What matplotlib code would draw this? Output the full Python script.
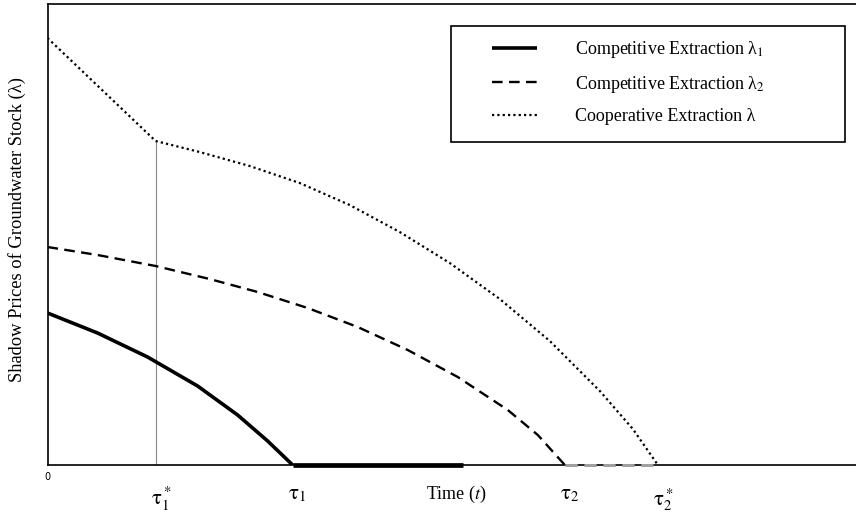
import matplotlib
matplotlib.use('Agg')
import matplotlib.pyplot as plt
import matplotlib.transforms as mtransforms
from matplotlib.patches import Rectangle

plt.rcParams['font.family'] = ['Liberation Serif', 'DejaVu Serif']
plt.rcParams['mathtext.fontset'] = 'stix'

# time axis points and shadow prices
t_comp1 = [0, 0.5, 1.0, 1.5, 1.9, 2.2, 2.45]
lam_comp1 = [1.52, 1.32, 1.08, 0.79, 0.50, 0.24, 0]
t_comp1_flat = [2.45, 4.15]

t_comp2 = [0, 0.5, 1.08, 1.62, 2.1, 2.6, 3.1, 3.6, 4.1, 4.6, 4.9, 5.17]
lam_comp2 = [2.18, 2.10, 1.99, 1.86, 1.73, 1.57, 1.38, 1.15, 0.88, 0.55,
             0.30, 0]
t_comp2_flat = [5.17, 6.10]

t_coop = [0, 1.08, 1.52, 2.02, 2.52, 3.02, 3.52, 4.02, 4.52, 5.02, 5.52,
          5.85, 6.10]
lam_coop = [4.27, 3.24, 3.13, 2.99, 2.82, 2.60, 2.33, 2.02, 1.66, 1.24, 0.74,
            0.36, 0]

tick_pos = [1.08, 2.45, 5.17, 6.10]
tick_labels = [r'$\mathrm{τ}_1^*$', r'$\mathrm{τ}_1$', r'$\mathrm{τ}_2$',
               r'$\mathrm{τ}_2^*$']

fig = plt.figure(figsize=(8.56, 5.17), dpi=100)
ax = fig.add_axes([47.5 / 856, 52 / 517, 1 - 47.5 / 856, 461 / 517])

ax.plot([t_coop[1], t_coop[1]], [0, lam_coop[1]], color='#888888', lw=0.8)

ax.plot(t_comp1, lam_comp1, color='black', lw=2.6, solid_capstyle='butt',
        label=r'Competitive Extraction λ$_1$')
ax.plot(t_comp1_flat, [0, 0], color='black', lw=3.4, solid_capstyle='butt',
        zorder=3, clip_on=False)

ax.plot(t_comp2, lam_comp2, color='black', lw=1.7, dashes=(4.5, 2.7),
        label=r'Competitive Extraction λ$_2$')
ax.plot(t_comp2_flat, [0, 0], color='#a0a0a0', lw=2.2, dashes=(4, 2.2),
        zorder=3, clip_on=False)

ax.plot(t_coop, lam_coop, color='black', lw=1.6, dashes=(1, 1.4),
        label='Cooperative Extraction λ')

ax.set_xlim(0, 8.08)
ax.set_ylim(0, 4.61)
ax.set_xticks([])
ax.set_yticks([])
for s in ['left', 'bottom', 'top']:
    ax.spines[s].set_linewidth(1.2)
ax.spines['right'].set_visible(False)

trans = mtransforms.blended_transform_factory(ax.transData, ax.transAxes)
for x, lab in zip(tick_pos, tick_labels):
    ax.text(x - 0.05, -0.045, lab, transform=trans, ha='left', va='top',
            fontsize=15)
ax.text(4.09, -0.042, r'Time ($t$)', transform=trans, ha='center', va='top',
        fontsize=13)
ax.text(0, -0.015, '0', transform=trans, ha='center', va='top',
        fontsize=7, family='DejaVu Sans')

fig.text(17 / 856, 1 - 229 / 517, 'Shadow Prices of Groundwater Stock (λ)',
         rotation=90, ha='center', va='center', fontsize=13.3)

leg = ax.legend(loc='upper left', bbox_to_anchor=(492 / 856, 1 - 39 / 517),
                bbox_transform=fig.transFigure, frameon=False, fontsize=13,
                handlelength=2.5, handletextpad=2.1, labelspacing=0.75,
                borderpad=0, borderaxespad=0)
fig.patches.append(Rectangle((451 / 856, 1 - 142 / 517), 394 / 856, 116 / 517,
                             transform=fig.transFigure, fill=False,
                             edgecolor='black', lw=1.2))

fig.savefig('out.png', dpi=100)
